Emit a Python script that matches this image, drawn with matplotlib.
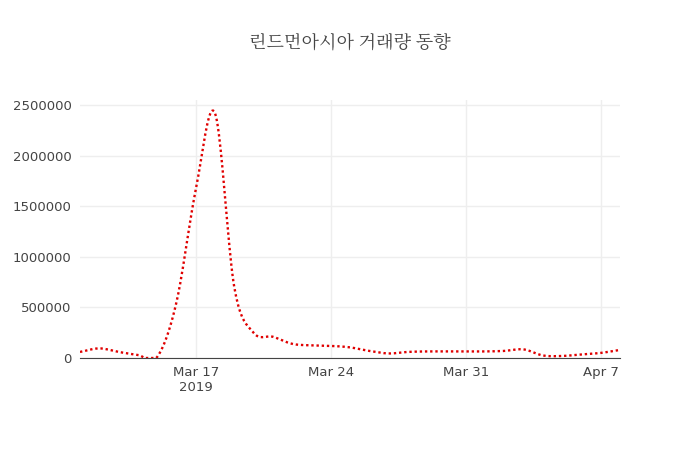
import numpy as np
import pandas as pd
import matplotlib as mpl
mpl.use('Agg')
import matplotlib.pyplot as plt
import matplotlib.dates as mdates
from matplotlib import font_manager

title = "린드먼아시아 거래량 동향"
dates = pd.date_range("2019-03-11", "2019-04-08", freq="D")
volume = [60000, 95000, 60000, 30000, 10000, 550000, 1660000, 2420000, 700000,
          250000, 210000, 140000, 125000, 120000, 105000, 70000, 45000, 60000,
          65000, 65000, 65000, 65000, 70000, 85000, 25000, 20000, 35000, 50000, 80000]
tick_dates = pd.to_datetime(["2019-03-17", "2019-03-24", "2019-03-31", "2019-04-07"])
tick_labels = ["Mar 17\n2019", "Mar 24", "Mar 31", "Apr 7"]


def catmull_rom(x, y, n=20):
    # smooth curve through the points, like plotly's spline shape
    x = np.asarray(x, float)
    y = np.asarray(y, float)
    px = np.concatenate([[2 * x[0] - x[1]], x, [2 * x[-1] - x[-2]]])
    py = np.concatenate([[2 * y[0] - y[1]], y, [2 * y[-1] - y[-2]]])
    xs, ys = [], []
    t = np.linspace(0, 1, n, endpoint=False)
    for i in range(1, len(px) - 2):
        for p, out in ((px, xs), (py, ys)):
            p0, p1, p2, p3 = p[i - 1:i + 3]
            out.extend(0.5 * (2 * p1 + (-p0 + p2) * t
                              + (2 * p0 - 5 * p1 + 4 * p2 - p3) * t ** 2
                              + (-p0 + 3 * p1 - 3 * p2 + p3) * t ** 3))
    xs.append(x[-1])
    ys.append(y[-1])
    return np.array(xs), np.array(ys)


# find a font with Korean glyphs
kr_font = None
for f in font_manager.findSystemFonts():
    if "CJK" in f or "Noto Sans KR" in f:
        kr_font = font_manager.FontProperties(fname=f)
        if "KR" in f or "Regular" in f:
            break
if kr_font is None:
    kr_font = font_manager.FontProperties(family="Noto Sans CJK KR")
kr_font.set_size(13)

xnum = mdates.date2num(dates)
sx, sy = catmull_rom(xnum, volume)
sy = np.clip(sy, 0, None)

fig = plt.figure(figsize=(7, 4.5), dpi=100)
ax = fig.add_axes([80 / 700, 1 - 358 / 450, 540 / 700, 258 / 450])
ax.plot(sx, sy, color="#e00000", lw=1.7, linestyle=(0, (1, 1.2)))
ax.set_xlim(xnum[0], xnum[-1])
ax.set_ylim(0, 2550000)
ax.set_yticks([0, 500000, 1000000, 1500000, 2000000, 2500000])
ax.set_yticklabels(["0", "500000", "1000000", "1500000", "2000000", "2500000"])
ax.set_xticks(mdates.date2num(tick_dates))
ax.set_xticklabels(tick_labels)
ax.grid(color="#eeeeee", lw=1)
ax.set_axisbelow(True)
for s in ["top", "right", "left"]:
    ax.spines[s].set_visible(False)
ax.spines["bottom"].set_color("#444444")
ax.tick_params(length=0, colors="#444444", labelsize=9.5, pad=6)
fig.text(0.5, 1 - 43 / 450, title, ha="center", va="center",
         color="#444444", fontproperties=kr_font)
fig.savefig("out.png", dpi=100)
